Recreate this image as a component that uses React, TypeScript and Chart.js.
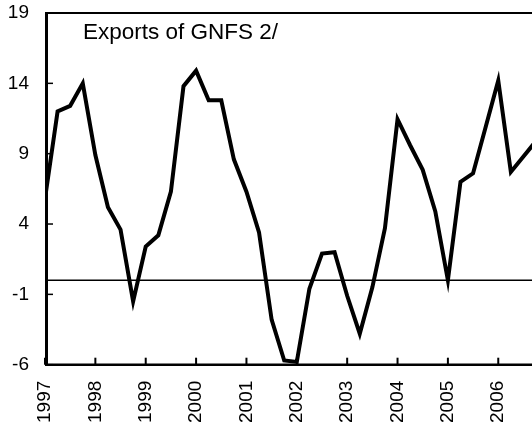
import React, { useEffect, useRef } from 'react';
import { Chart, registerables } from 'chart.js';

Chart.register(...registerables);

// Quarterly series, starting 1997 Q1
const startYear = 1997;
const quarterLabels = [
  '1997Q1', '1997Q2', '1997Q3', '1997Q4',
  '1998Q1', '1998Q2', '1998Q3', '1998Q4',
  '1999Q1', '1999Q2', '1999Q3', '1999Q4',
  '2000Q1', '2000Q2', '2000Q3', '2000Q4',
  '2001Q1', '2001Q2', '2001Q3', '2001Q4',
  '2002Q1', '2002Q2', '2002Q3', '2002Q4',
  '2003Q1', '2003Q2', '2003Q3', '2003Q4',
  '2004Q1', '2004Q2', '2004Q3', '2004Q4',
  '2005Q1', '2005Q2', '2005Q3', '2005Q4',
  '2006Q1', '2006Q2', '2006Q3', '2006Q4',
];
const exportsGrowth = [
  5.8, 12.0, 12.4, 14.0,
  8.9, 5.2, 3.6, -1.5,
  2.4, 3.2, 6.3, 13.8,
  14.9, 12.8, 12.8, 8.6,
  6.3, 3.4, -2.8, -5.7,
  -5.8, -0.6, 1.9, 2.0,
  -1.1, -3.8, -0.5, 3.7,
  11.45, 9.6, 7.85, 4.9,
  0.0, 7.0, 7.6, 10.9,
  14.2, 7.7, 8.8, 9.9,
];
const xTicks = [1997, 1998, 1999, 2000, 2001, 2002, 2003, 2004, 2005, 2006];
const yTicks = [-6, -1, 4, 9, 14, 19];
const titleText = 'Exports of GNFS 2/';

function quarterToX(label: string): number {
  const year = parseInt(label.slice(0, 4), 10);
  const q = parseInt(label.slice(5), 10);
  return year + (q - 1) / 4;
}

const FONT = '"Liberation Sans", Arial, sans-serif';

const framePlugin = {
  id: 'frame',
  beforeDatasetsDraw(chart: any) {
    const { ctx, chartArea, scales } = chart;
    const y0 = scales.y.getPixelForValue(0);
    ctx.save();
    ctx.strokeStyle = '#000';
    ctx.lineWidth = 1.5;
    ctx.beginPath();
    ctx.moveTo(chartArea.left, y0);
    ctx.lineTo(chartArea.right, y0);
    ctx.stroke();
    ctx.restore();
  },
  afterDatasetsDraw(chart: any) {
    const { ctx, chartArea, scales } = chart;
    const { left, right, top, bottom } = chartArea;
    ctx.save();
    ctx.strokeStyle = '#000';
    ctx.lineCap = 'butt';
    // top border
    ctx.lineWidth = 2;
    ctx.beginPath();
    ctx.moveTo(left, top);
    ctx.lineTo(right, top);
    ctx.stroke();
    // bottom axis
    ctx.lineWidth = 2.5;
    ctx.beginPath();
    ctx.moveTo(left, bottom);
    ctx.lineTo(right, bottom);
    ctx.stroke();
    // left axis
    ctx.lineWidth = 3;
    ctx.beginPath();
    ctx.moveTo(left + 1.5, top - 1);
    ctx.lineTo(left + 1.5, bottom + 1.25);
    ctx.stroke();
    // y tick marks (inward)
    ctx.lineWidth = 1.5;
    yTicks.forEach((v) => {
      const py = scales.y.getPixelForValue(v);
      ctx.beginPath();
      ctx.moveTo(left + 3, py);
      ctx.lineTo(left + 8, py);
      ctx.stroke();
    });
    // x tick marks (inward)
    ctx.lineWidth = 2;
    xTicks.forEach((v) => {
      const px = scales.x.getPixelForValue(v);
      ctx.beginPath();
      ctx.moveTo(px, bottom);
      ctx.lineTo(px, bottom - 7);
      ctx.stroke();
    });
    // title
    ctx.fillStyle = '#000';
    ctx.font = '22.5px ' + FONT;
    ctx.textAlign = 'left';
    ctx.textBaseline = 'alphabetic';
    ctx.fillText(titleText, 83, 39);
    ctx.restore();
  },
};

export default function App() {
  const canvasRef = useRef<HTMLCanvasElement | null>(null);

  useEffect(() => {
    document.documentElement.style.overflow = 'hidden';
    document.body.style.overflow = 'hidden';
    const canvas = canvasRef.current;
    if (!canvas) return;
    const chart = new Chart(canvas, {
      type: 'line',
      data: {
        datasets: [
          {
            label: titleText,
            data: quarterLabels.map((q, i) => ({ x: quarterToX(q), y: exportsGrowth[i] })),
            borderColor: '#000',
            borderWidth: 4,
            pointRadius: 0,
            tension: 0,
            fill: false,
            borderJoinStyle: 'miter',
          },
        ],
      },
      options: {
        animation: false,
        responsive: false,
        devicePixelRatio: 1,
        layout: { padding: { top: 13, left: 0, right: 0, bottom: 0 } },
        plugins: {
          legend: { display: false },
          tooltip: { enabled: false },
          title: { display: false },
        },
        scales: {
          x: {
            type: 'linear',
            min: startYear,
            max: 2006.67,
            afterBuildTicks: (s: any) => {
              s.ticks = xTicks.map((v) => ({ value: v }));
            },
            afterFit: (s: any) => {
              s.height = 65.3;
              s.paddingLeft = 0;
              s.paddingRight = 0;
              s.paddingTop = 0;
              s.paddingBottom = 0;
            },
            grid: { display: false, drawTicks: false },
            border: { display: false },
            ticks: {
              autoSkip: false,
              minRotation: 90,
              maxRotation: 90,
              padding: 16,
              color: '#000',
              font: { family: FONT, size: 19 },
              callback: (v: any) => String(v),
            },
          },
          y: {
            type: 'linear',
            min: -6,
            max: 19,
            afterBuildTicks: (s: any) => {
              s.ticks = yTicks.map((v) => ({ value: v }));
            },
            afterFit: (s: any) => {
              s.width = 45;
              s.paddingLeft = 0;
              s.paddingRight = 0;
              s.paddingTop = 0;
              s.paddingBottom = 0;
            },
            grid: { display: false, drawTicks: false },
            border: { display: false },
            ticks: {
              padding: 16,
              color: '#000',
              font: { family: FONT, size: 19 },
              callback: (v: any) => String(v),
            },
          },
        },
      },
      plugins: [framePlugin],
    });
    return () => chart.destroy();
  }, []);

  return (
    <div style={{ position: 'absolute', left: 0, top: 0, width: 532, height: 430 }}>
      <canvas ref={canvasRef} width={532} height={430} style={{ display: 'block', width: 532, height: 430 }} />
    </div>
  );
}
